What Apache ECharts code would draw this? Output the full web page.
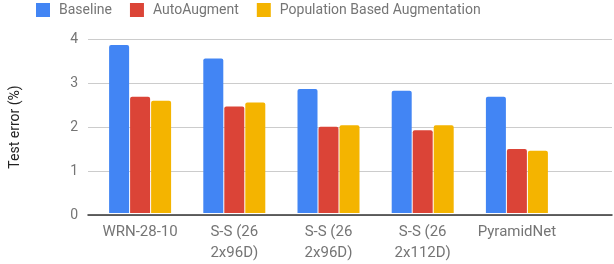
<!DOCTYPE html>
<html><head><meta charset="utf-8">
<script src="https://cdn.jsdelivr.net/npm/echarts@6/dist/echarts.min.js"></script>
<style>html,body{margin:0;padding:0;background:#fff}#c{width:614px;height:264px}</style>
</head><body><div id="c"></div>
<script>
const categories = ['WRN-28-10', 'S-S (26\n2x96D)', 'S-S (26\n2x96D)', 'S-S (26\n2x112D)', 'PyramidNet'];
const baseline = [3.86, 3.55, 2.85, 2.81, 2.67];
const autoAugment = [2.67, 2.45, 1.98, 1.90, 1.47];
const pba = [2.58, 2.54, 2.02, 2.02, 1.43];
const yTicks = [0, 1, 2, 3, 4];

const font = 'Roboto';
const grey = '#757575';
const chart = echarts.init(document.getElementById('c'), null, {renderer: 'canvas'});
const mk = (name, data, color) => ({
  name, type: 'bar', data, xAxisIndex: 1, yAxisIndex: 1,
  barWidth: 20, barGap: '5%',
  itemStyle: {color, borderRadius: [2, 2, 0, 0]}
});
chart.setOption({
  animation: false,
  textStyle: {fontFamily: font},
  legend: {
    left: 36, top: 3, padding: 0, itemWidth: 14, itemHeight: 14, itemGap: 18,
    icon: 'rect',
    textStyle: {fontFamily: font, fontSize: 14, color: grey, padding: [0, 0, 0, 4]},
    data: ['Baseline', 'AutoAugment', 'Population Based Augmentation']
  },
  grid: [
    {left: 77, right: 2, top: 39, height: 176},
    {left: 93, width: 471, top: 39, height: 176}
  ],
  xAxis: [
    {gridIndex: 0, type: 'category', data: [''],
     axisLine: {show: true, lineStyle: {color: '#333', width: 1.5}},
     axisTick: {show: false}, axisLabel: {show: false}},
    {gridIndex: 1, type: 'category', data: categories,
     axisLine: {show: false}, axisTick: {show: false},
     axisLabel: {fontFamily: font, fontSize: 15, color: grey, lineHeight: 21, margin: 9, interval: 0}}
  ],
  yAxis: [
    {gridIndex: 0, type: 'value', min: yTicks[0], max: yTicks[yTicks.length - 1], interval: 1,
     name: 'Test error (%)', nameLocation: 'middle', nameGap: 66,
     nameTextStyle: {fontFamily: font, fontSize: 14, color: '#222'},
     axisLine: {show: false}, axisTick: {show: false},
     axisLabel: {fontFamily: font, fontSize: 14, color: grey, margin: 10},
     splitLine: {lineStyle: {color: '#cccccc', width: 1}}},
    {gridIndex: 1, type: 'value', min: 0, max: 4, interval: 1, show: false, splitLine: {show: false}}
  ],
  series: [
    mk('Baseline', baseline, '#4285F4'),
    mk('AutoAugment', autoAugment, '#DB4437'),
    mk('Population Based Augmentation', pba, '#F4B400')
  ]
});
</script></body></html>
